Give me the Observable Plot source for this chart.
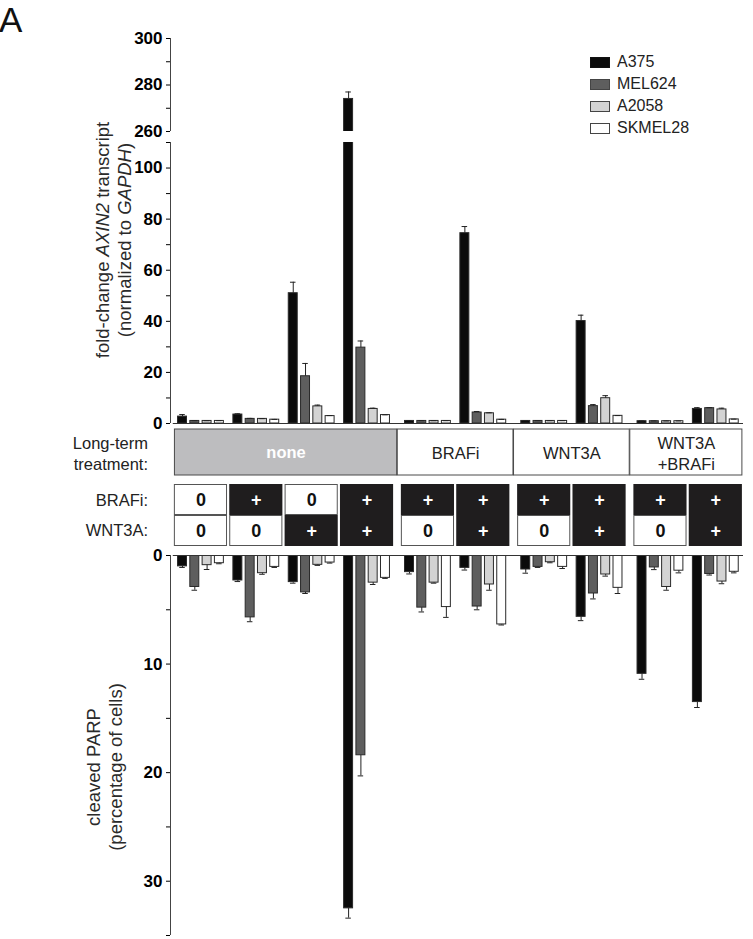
<!DOCTYPE html>
<html><head><meta charset="utf-8">
<script src="https://cdn.jsdelivr.net/npm/d3@7"></script>
<script src="https://cdn.jsdelivr.net/npm/@observablehq/plot@0.6"></script>
<style>
body{margin:0;background:#fff;font-family:Arial,"Liberation Sans",sans-serif;}
#chart{position:relative;width:753px;height:939px;overflow:hidden;background:#fff;}
#chart svg{position:absolute;left:0;}
.lbl{position:absolute;color:#222;font-size:16.5px;white-space:nowrap;}
.ylab{position:absolute;color:#2a2a2a;font-size:18.5px;white-space:nowrap;text-align:center;line-height:22px;transform:translate(-50%,-50%) rotate(-90deg);}
.sw{position:absolute;width:18px;height:9px;border:1px solid #444;}
</style></head><body><div id="chart"></div><script>
// ---- data ----
const series = ["A375", "MEL624", "A2058", "SKMEL28"];
const seriesColors = ["#0b0b0b", "#5e5e5e", "#d3d3d3", "#ffffff"];
const longTerm = ["none","none","none","none","BRAFi","BRAFi","WNT3A","WNT3A","WNT3A\n+BRAFi","WNT3A\n+BRAFi"];
const acuteBRAFi = ["0","+","0","+","+","+","+","+","+","+"];
const acuteWNT3A = ["0","0","+","+","0","+","0","+","0","+"];

// fold-change AXIN2 transcript
const axinA375    = [2.7, 3.5, 51.0, 274.0, 1.0, 74.5, 1.0, 40.1, 0.9, 5.7];
const axinMEL624  = [1.0, 1.8, 18.5, 29.7, 1.0, 4.3, 1.0, 6.8, 0.9, 6.0];
const axinA2058   = [1.0, 1.8, 6.7, 5.7, 1.0, 4.0, 1.0, 9.9, 0.9, 5.5];
const axinSKMEL28 = [1.0, 1.5, 2.9, 3.3, 1.0, 1.5, 1.0, 3.0, 0.9, 1.6];
const axinErrA375    = [0.8, 0.3, 4.3, 3.0, 0.1, 2.6, 0.1, 2.3, 0.1, 0.5];
const axinErrMEL624  = [0.1, 0.2, 5.0, 2.6, 0.1, 0.4, 0.1, 0.6, 0.1, 0.2];
const axinErrA2058   = [0.1, 0.1, 0.5, 0.3, 0.1, 0.2, 0.1, 1.0, 0.1, 0.5];
const axinErrSKMEL28 = [0.1, 0.1, 0.2, 0.1, 0.1, 0.1, 0.1, 0.1, 0.1, 0.1];

// cleaved PARP (% of cells)
const parpA375    = [1.0, 2.3, 2.45, 32.5, 1.53, 1.14, 1.29, 5.65, 10.9, 13.5];
const parpMEL624  = [2.9, 5.7, 3.4, 18.4, 4.8, 4.7, 1.05, 3.5, 1.1, 1.7];
const parpA2058   = [0.89, 1.63, 0.86, 2.5, 2.5, 2.67, 0.62, 1.75, 2.9, 2.4];
const parpSKMEL28 = [0.71, 1.05, 0.65, 2.06, 4.75, 6.35, 1.05, 2.98, 1.4, 1.5];
const parpErrA375    = [0.1, 0.1, 0.1, 0.9, 0.17, 0.2, 0.34, 0.35, 0.5, 0.5];
const parpErrMEL624  = [0.3, 0.4, 0.1, 1.9, 0.4, 0.3, 0.05, 0.5, 0.2, 0.1];
const parpErrA2058   = [0.4, 0.1, 0.05, 0.17, 0.05, 0.53, 0.05, 0.15, 0.3, 0.2];
const parpErrSKMEL28 = [0.05, 0.05, 0.05, 0.05, 0.95, 0.05, 0.15, 0.52, 0.2, 0.1];

const axinTicksUpper = [260, 270, 280, 290, 300];
const axinTicksLower = [0, 10, 20, 30, 40, 50, 60, 70, 80, 90, 100, 110];
const parpTicks = [0, 5, 10, 15, 20, 25, 30, 35];

// ---- layout helpers ----
const W = 753, ML = 170, MR = 10;
const blocks = [...new Set(longTerm)];
const blockOf = g => blocks.indexOf(longTerm[g]);
const BG = 0.1;
const pos = g => g + BG * blockOf(g);
const xDomain = [-0.05, longTerm.length + BG * (blocks.length - 1)];
const HW = 0.081, CAP = 0.05, STEP = 0.222;
const center = (g, s) => pos(g) + 0.5 + (s - 1.5) * STEP;

function rows(vals, errs) {
  const out = [];
  vals.forEach((arr, s) => arr.forEach((v, g) => out.push({series: series[s], g, s, v, e: errs[s][g], c: center(g, s)})));
  return out;
}
const axinRows = rows([axinA375, axinMEL624, axinA2058, axinSKMEL28], [axinErrA375, axinErrMEL624, axinErrA2058, axinErrSKMEL28]);
const parpRows = rows([parpA375, parpMEL624, parpA2058, parpSKMEL28], [parpErrA375, parpErrMEL624, parpErrA2058, parpErrSKMEL28]);

const baseStyle = {background: "transparent", overflow: "visible", fontFamily: "Arial, 'Liberation Sans', sans-serif", fontSize: "17px", fontWeight: "bold", color: "#000"};

function barMarks(data) {
  return [
    Plot.rect(data, {x1: d => d.c - HW, x2: d => d.c + HW, y1: 0, y2: "v", fill: "series", stroke: "#2a2a2a", strokeWidth: 1, clip: true}),
    Plot.ruleX(data, {x: "c", y1: "v", y2: d => d.v + d.e, stroke: "#222", strokeWidth: 1, clip: true}),
    Plot.ruleY(data, {y: d => d.v + d.e, x1: d => d.c - CAP, x2: d => d.c + CAP, stroke: "#222", strokeWidth: 1, clip: true})
  ];
}

const chart = document.getElementById("chart");
function place(svg, top, axisText) {
  svg.style.position = "absolute"; svg.style.top = top + "px"; svg.style.left = "0px";
  if (axisText) svg.querySelectorAll("text").forEach(t => { t.style.fontSize = "17px"; t.style.fontWeight = "bold"; t.style.fill = "#000"; });
  chart.appendChild(svg);
}

// upper segment (260-300)
place(Plot.plot({
  width: W, height: 136, marginLeft: ML, marginRight: MR, marginTop: 38, marginBottom: 5,
  x: {domain: xDomain, axis: null},
  y: {domain: [260, 300], ticks: axinTicksUpper, tickFormat: d => d % 20 ? "" : d, tickSize: 4, tickPadding: 4, label: null},
  color: {domain: series, range: seriesColors},
  style: baseStyle,
  marks: [Plot.ruleX([xDomain[0]], {y1: 260, y2: 300, stroke: "#444"}), ...barMarks(axinRows)]
}), 0, true);

// lower segment (0-110)
place(Plot.plot({
  width: W, height: 295, marginLeft: ML, marginRight: MR, marginTop: 6, marginBottom: 8,
  x: {domain: xDomain, axis: null},
  y: {domain: [0, 110], ticks: axinTicksLower, tickFormat: d => d % 20 ? "" : d, tickSize: 4, tickPadding: 4, label: null},
  color: {domain: series, range: seriesColors},
  style: baseStyle,
  marks: [Plot.ruleX([xDomain[0]], {y1: 0, y2: 110, stroke: "#444"}), ...barMarks(axinRows), Plot.ruleY([0], {x1: 0, x2: xDomain[1], stroke: "#333"})]
}), 136, true);

// long-term treatment row
const ltBoxes = blocks.map(b => {
  const gs = longTerm.map((v, i) => v === b ? i : -1).filter(i => i >= 0);
  const f = gs[0], l = gs[gs.length - 1];
  return {name: b, x1: pos(f) - (f === 0 ? -0.03 : 0.045), x2: pos(l) + 1 + (l === longTerm.length - 1 ? -0.02 : 0.045)};
});
place(Plot.plot({
  width: W, height: 46, marginLeft: ML, marginRight: MR, marginTop: 0, marginBottom: 0,
  x: {domain: xDomain, axis: null}, y: {domain: [0, 1], axis: null},
  style: {...baseStyle, fontSize: "16.5px"},
  marks: [
    Plot.rect(ltBoxes, {x1: "x1", x2: "x2", y1: 0, y2: 1, fill: d => d.name === "none" ? "#bdbdbf" : "#ffffff", stroke: "#4a4a4a", strokeWidth: 1}),
    Plot.text(ltBoxes.filter(d => d.name === "none"), {x: d => (d.x1 + d.x2) / 2, y: 0.5, text: "name", fill: "#ffffff", fontWeight: "bold", fontSize: 16.5}),
    Plot.text(ltBoxes.filter(d => d.name !== "none"), {x: d => (d.x1 + d.x2) / 2, y: 0.5, text: "name", fill: "#222", fontWeight: "normal", fontSize: 16.5, lineHeight: 1.3})
  ]
}), 429, false);

// acute treatment grid
const cells = [];
[acuteBRAFi, acuteWNT3A].forEach((arr, r) => arr.forEach((v, g) => cells.push({g, r, v, x1: pos(g) + 0.02, x2: pos(g) + 0.98})));
place(Plot.plot({
  width: W, height: 62, marginLeft: ML, marginRight: MR, marginTop: 0, marginBottom: 0,
  x: {domain: xDomain, axis: null}, y: {domain: [0, 2], reverse: true, axis: null},
  style: baseStyle,
  marks: [
    Plot.rect(cells.filter(d => d.v === "0"), {x1: "x1", x2: "x2", y1: "r", y2: d => d.r + 1, fill: "#fff", stroke: "#555", strokeWidth: 1, inset: 0.5}),
    Plot.rect(cells.filter(d => d.v === "+"), {x1: "x1", x2: "x2", y1: "r", y2: d => d.r + 1, fill: "#1f1d1e"}),
    Plot.text(cells, {x: d => (d.x1 + d.x2) / 2, y: d => d.r + 0.5, text: "v", fill: d => d.v === "+" ? "#ffffff" : "#111111", fontWeight: "bold", fontSize: 18})
  ]
}), 484, false);

// cleaved PARP (downward)
place(Plot.plot({
  width: W, height: 394, marginLeft: ML, marginRight: MR, marginTop: 10, marginBottom: 4,
  x: {domain: xDomain, axis: null},
  y: {domain: [0, 35], reverse: true, ticks: parpTicks, tickFormat: d => d % 10 ? "" : d, tickSize: 4, tickPadding: 4, label: null},
  color: {domain: series, range: seriesColors},
  style: baseStyle,
  marks: [Plot.ruleX([xDomain[0]], {y1: 0, y2: 35, stroke: "#444"}), ...barMarks(parpRows), Plot.ruleY([0], {x1: 0, x2: xDomain[1], stroke: "#333"})]
}), 545, true);

// ---- html text: panel letter, axis titles, row labels, legend ----
function addDiv(cls, css, html) { const d = document.createElement("div"); d.className = cls; d.style.cssText = css; d.innerHTML = html; chart.appendChild(d); return d; }
addDiv("lbl", "left:-1px;top:0px;font-size:35px;line-height:40px;color:#111;", "A");
addDiv("ylab", "left:114px;top:240px;", "fold-change <i>AXIN2</i> transcript<br>(normalized to <i>GAPDH</i>)");
addDiv("ylab", "left:105px;top:767px;", "cleaved PARP<br>(percentage of cells)");
addDiv("lbl", "right:605px;top:433px;text-align:right;line-height:21px;", "Long-term<br>treatment:");
addDiv("lbl", "right:605px;top:490px;text-align:right;line-height:20px;", "BRAFi:");
addDiv("lbl", "right:605px;top:520px;text-align:right;line-height:20px;", "WNT3A:");
series.forEach((s, i) => {
  addDiv("sw", `left:590px;top:${57 + 22 * i}px;background:${seriesColors[i]};` + (i === 0 ? "border-color:#111;" : ""), "");
  addDiv("lbl", `left:617px;top:${53 + 22 * i}px;line-height:18px;font-size:16px;`, s);
});
</script></body></html>
